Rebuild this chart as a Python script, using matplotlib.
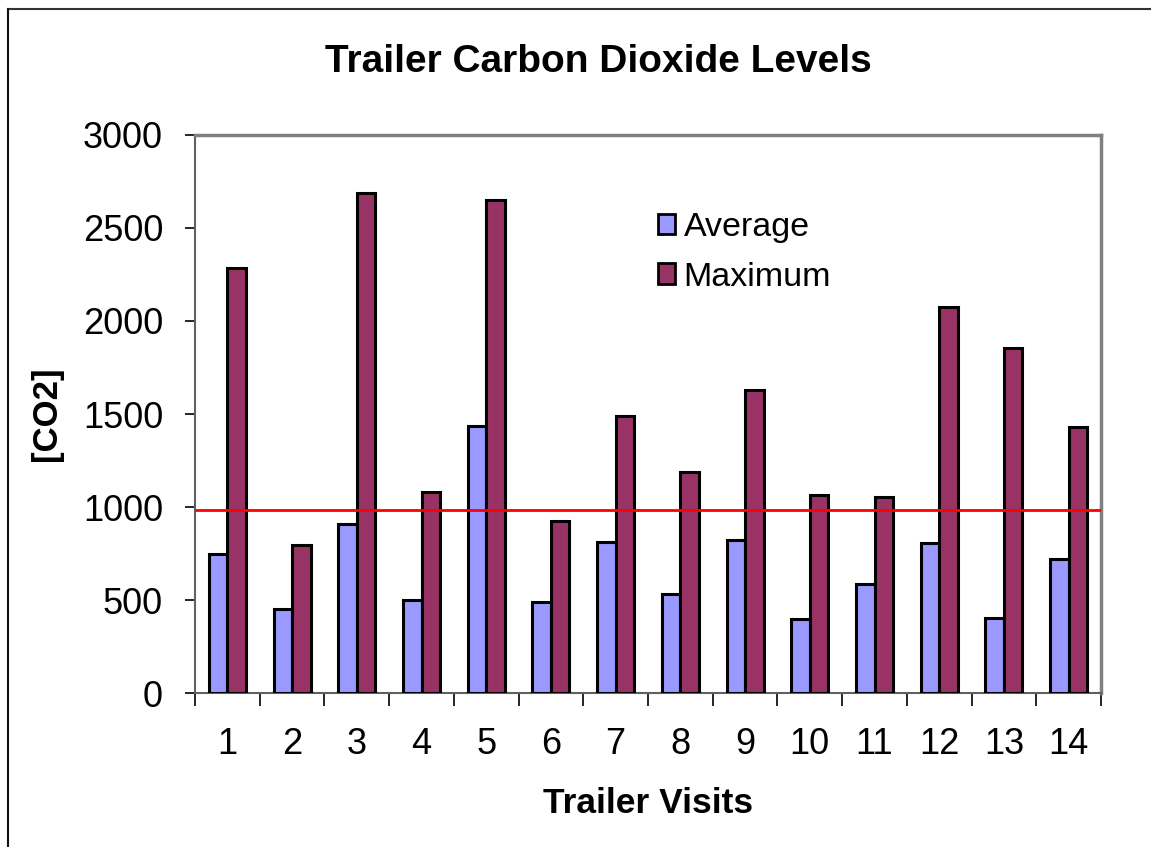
import matplotlib
matplotlib.use("Agg")
import matplotlib.pyplot as plt
import numpy as np
from matplotlib.patches import Rectangle
from matplotlib.lines import Line2D

visits = [str(i) for i in range(1, 15)]
average = [750, 453, 907, 502, 1433, 489, 810, 535, 824, 400, 588, 806, 404, 722]
maximum = [2283, 794, 2686, 1079, 2648, 925, 1487, 1190, 1631, 1066, 1055, 2072, 1853, 1432]
threshold = 982

avg_color = "#9999FF"
max_color = "#993366"

plt.rcParams['font.family'] = ['Liberation Sans', 'DejaVu Sans']

fig = plt.figure(figsize=(11.51, 8.47), dpi=100)
W, H = 1151, 847
ax = fig.add_axes([195 / W, 1 - 693.3 / H, (1101 - 195) / W, (693.3 - 134.7) / H])

x = np.arange(len(visits))
bw = 1 / 3.5
ax.bar(x - bw / 2, average, width=bw, color=avg_color, edgecolor="black", linewidth=2.2, label="Average", zorder=3)
ax.bar(x + bw / 2, maximum, width=bw, color=max_color, edgecolor="black", linewidth=2.2, label="Maximum", zorder=3)
ax.axhline(threshold, color="#FF0000", linewidth=2, zorder=4)

ax.set_xlim(-0.5, len(visits) - 0.5)
ax.set_ylim(0, 3000)
ax.set_yticks(np.arange(0, 3001, 500))
ax.set_yticklabels([str(v) for v in range(0, 3001, 500)], fontsize=26)
ax.set_xticks(x)
ax.set_xticklabels(visits, fontsize=26)
ax.tick_params(axis='x', length=0, pad=24)
ax.set_xticks(np.arange(-0.5, len(visits)), minor=True)
ax.tick_params(axis='x', which='minor', length=9, width=1.2, color='black', direction='out')
ax.tick_params(axis='y', length=7, width=1.2, color='black', direction='out', pad=16)

for s in ['top', 'right']:
    ax.spines[s].set_color('#808080')
    ax.spines[s].set_linewidth(2.5)
for s in ['left', 'bottom']:
    ax.spines[s].set_color('#606060')
    ax.spines[s].set_linewidth(1.5)

ax.set_ylabel("[CO2]", fontsize=25, fontweight='bold', labelpad=14)
ax.set_xlabel("Trailer Visits", fontsize=25.5, fontweight='bold', labelpad=18)

fig.text(598 / W, 1 - 62 / H, "Trailer Carbon Dioxide Levels", fontsize=28,
         fontweight='bold', ha='center', va='center')

handles = [Rectangle((0, 0), 1, 1, facecolor=avg_color, edgecolor='black', linewidth=2),
           Rectangle((0, 0), 1, 1, facecolor=max_color, edgecolor='black', linewidth=2)]
fig.legend(handles, ["Average", "Maximum"], loc='upper left',
           bbox_to_anchor=(658 / W, 1 - 212 / H), frameon=False, fontsize=24.5,
           handlelength=0.5, handleheight=0.55, handletextpad=0.25,
           labelspacing=0.55, borderpad=0, borderaxespad=0)

# outer border
fig.add_artist(Line2D([8 / W, 1.0], [1 - 9.5 / H, 1 - 9.5 / H], transform=fig.transFigure,
                      color='#333333', linewidth=1.5))
fig.add_artist(Line2D([8 / W, 8 / W], [0.0, 1 - 9.5 / H], transform=fig.transFigure,
                      color='#111111', linewidth=1.5))

fig.savefig("out.png", dpi=100)
